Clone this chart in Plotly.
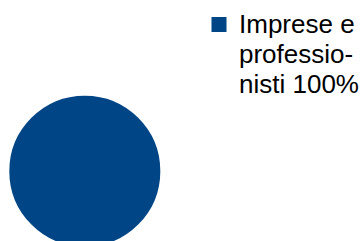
import plotly.graph_objects as go

# Data
categories = ["Imprese e professionisti"]
values = [100]
colors = ["#004586"]

# Legend text lines as wrapped in the reference (label + share)
total = sum(values)
shares = [round(v / total * 100) for v in values]
label_lines = [["Imprese e", "professio-", "nisti {}%".format(shares[0])]]

W, H = 360, 247
GLYPH = 26   # glyph size of legend text
BASE = 23    # base size -> controls line spacing (1.3 * BASE)

display_labels = [
    "<br>".join("<span style='font-size:{}px'>{}</span>".format(GLYPH, ln) for ln in lines)
    for lines in label_lines
]

fig = go.Figure(
    go.Pie(
        labels=display_labels,
        values=values,
        marker=dict(colors=colors, line=dict(color=colors[0], width=3)),
        textinfo="none",
        sort=False,
        direction="clockwise",
        domain=dict(x=[0.03, 0.4411], y=[0.0073, 0.6065]),
        showlegend=True,
        hovertext=categories,
        hoverinfo="text+percent",
    )
)

fig.update_layout(
    width=W,
    height=H,
    margin=dict(l=0, r=0, t=0, b=0, autoexpand=False),
    paper_bgcolor="white",
    plot_bgcolor="white",
    font=dict(family="Liberation Sans", size=BASE, color="#000000"),
    legend=dict(
        x=(239 - 40) / W,
        xanchor="left",
        y=1 - 3 / H,
        yanchor="top",
        valign="top",
        bgcolor="rgba(0,0,0,0)",
        borderwidth=0,
        font=dict(family="Liberation Sans", size=BASE, color="#000000"),
    ),
)

fig.write_html(
    "out.html",
    config={"displayModeBar": False},
    post_script="document.body.style.overflow='hidden';document.body.style.margin='0';",
)
